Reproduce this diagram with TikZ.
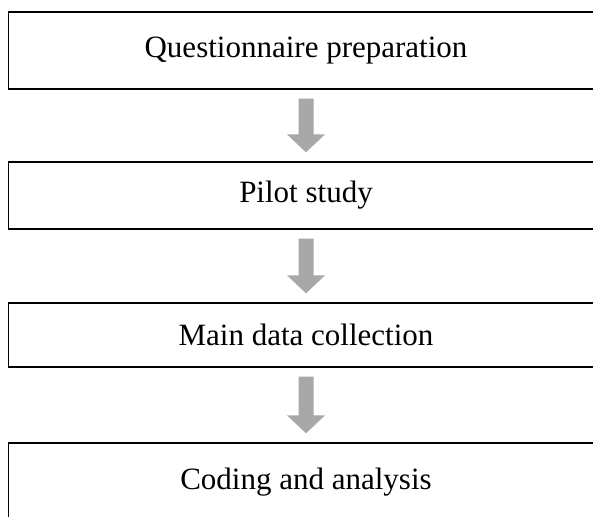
\documentclass[tikz,border=0pt]{standalone}
\usepackage{fontspec}
\setmainfont{Liberation Serif}
\usetikzlibrary{calc}
\tikzset{
  stepbox/.style={draw=black, line width=1.3pt, fill=white, minimum width=595pt,
    inner sep=0pt, font=\fontsize{31}{36}\selectfont},
  arrowfill/.style={fill=black!34},
}
\newcommand\blockarrow[2]{%
  \fill[arrowfill] ($(#1.south)+(-7.5,9)$) -- ($(#1.south)+(7.5,9)$)
    -- ($(#2.north)+(7.5,-27)$) -- ($(#2.north)+(19,-27)$)
    -- ($(#2.north)+(0,-9)$) -- ($(#2.north)+(-19,-27)$)
    -- ($(#2.north)+(-7.5,-27)$) -- cycle;}
\begin{document}
\begin{tikzpicture}[x=1pt,y=-1pt]
\useasboundingbox (0,0) rectangle (593,516);
\begin{scope}
\clip (0,0) rectangle (593,516);
\node[stepbox, minimum height=77pt] (q) at (306,50.5) {Questionnaire preparation};
\node[stepbox, minimum height=67pt] (p) at (306,195.5) {Pilot study};
\node[stepbox, minimum height=64pt] (m) at (306,335) {Main data collection};
\node[stepbox, minimum height=78pt] (c) at (306,482) {Coding and analysis};
\blockarrow{q}{p}
\blockarrow{p}{m}
\blockarrow{m}{c}
\end{scope}
\end{tikzpicture}
\end{document}
